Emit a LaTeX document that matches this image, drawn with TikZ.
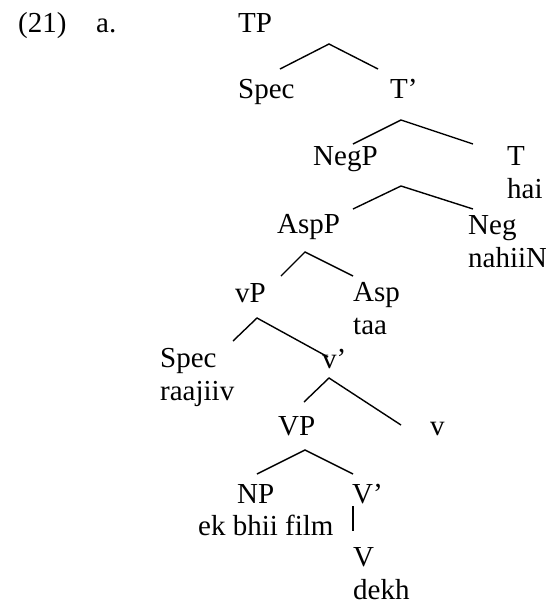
\documentclass[tikz,border=0pt]{standalone}
\usepackage{fontspec}
\setmainfont{Liberation Serif}
\usetikzlibrary{positioning}

\begin{document}
\begin{tikzpicture}[
  x=1pt, y=-1pt,
  lbl/.style={anchor=base west, inner sep=0pt, align=left,
    font=\fontsize{29}{33}\selectfont},
  branch/.style={line width=1.4pt, line join=miter},
]
\useasboundingbox (0,0) rectangle (546,606);

% ---- example number ----
\node[lbl] (num) at (18,32) {(21)};
\node[lbl] (sub) at (96,32) {a.};

% ---- labels, top to bottom (two-line nodes sit on their last line) ----
\node[lbl] (tp)    at (238,32)  {TP};
\node[lbl] (spec1) at (238,98)  {Spec};
\node[lbl] (tbar)  at (390,98)  {T’};
\node[lbl] (negp)  at (313,165) {NegP};
\node[lbl] (t)     at (507,198) {T\\hai};
\node[lbl] (aspp)  at (277,233) {AspP};
\node[lbl] (neg)   at (468,267) {Neg\\nahiiN};
\node[lbl] (vp)    at (235,302) {vP};
\node[lbl] (asp)   at (353,334) {Asp\\taa};
\node[lbl] (spec2) at (160,400) {Spec\\raajiiv};
\node[lbl] (vbar)  at (322,368) {v’};
\node[lbl] (bigvp) at (278,435) {VP};
\node[lbl] (v)     at (430,435) {v};
\node[lbl] (np)    at (237,503) {NP};
\node[lbl] (film)  at (198,535) {ek bhii film};
\node[lbl] (vbig)  at (352,503) {V’};
\node[lbl] (verb)  at (353,599) {V\\dekh};

% ---- branch points ----
\coordinate (tp-l)   at (280,69);
\coordinate (tp-a)   at (329,44);
\coordinate (tp-r)   at (378,69);
\coordinate (tb-l)   at (353,144);
\coordinate (tb-a)   at (401,120);
\coordinate (tb-r)   at (473,144);
\coordinate (np-l)   at (353,209);
\coordinate (np-a)   at (401,186);
\coordinate (np-r)   at (473,209);
\coordinate (ap-l)   at (281,276);
\coordinate (ap-a)   at (305,252);
\coordinate (ap-r)   at (353,276);
\coordinate (vp-l)   at (233,341);
\coordinate (vp-a)   at (257,318);
\coordinate (vp-r)   at (328,357);
\coordinate (vb-l)   at (304,402);
\coordinate (vb-a)   at (329,378);
\coordinate (vb-r)   at (401,425);
\coordinate (bv-l)   at (257,474);
\coordinate (bv-a)   at (305,450);
\coordinate (bv-r)   at (353,474);
\coordinate (vb-top) at (353,506);
\coordinate (vb-bot) at (353,531);

% ---- branches ----
\draw[branch] (tp-l) -- (tp-a) -- (tp-r);
\draw[branch] (tb-l) -- (tb-a) -- (tb-r);
\draw[branch] (np-l) -- (np-a) -- (np-r);
\draw[branch] (ap-l) -- (ap-a) -- (ap-r);
\draw[branch] (vp-l) -- (vp-a) -- (vp-r);
\draw[branch] (vb-l) -- (vb-a) -- (vb-r);
\draw[branch] (bv-l) -- (bv-a) -- (bv-r);
\draw[branch] (vb-top) -- (vb-bot);

\end{tikzpicture}
\end{document}
